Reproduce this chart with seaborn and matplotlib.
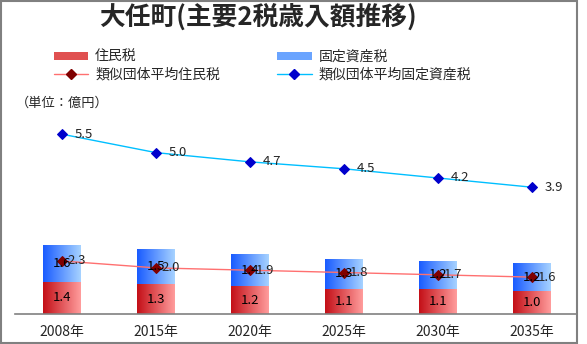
import numpy as np
import pandas as pd
import matplotlib
matplotlib.use("Agg")
import matplotlib.pyplot as plt
import seaborn as sns
from matplotlib.patches import Patch, Rectangle
from matplotlib.lines import Line2D
from matplotlib.colors import LinearSegmentedColormap

# ---- data ----
years = ["2008年", "2015年", "2020年", "2025年", "2030年", "2035年"]
juminzei = [1.4, 1.3, 1.2, 1.1, 1.1, 1.0]
kotei = [1.6, 1.5, 1.4, 1.3, 1.2, 1.2]
avg_juminzei = [2.3, 2.0, 1.9, 1.8, 1.7, 1.6]
avg_kotei = [5.5, 5.0, 4.7, 4.5, 4.2, 3.9]

title = "大任町(主要2税歳入額推移)"
unit_label = "（単位：億円）"
lbl_j = "住民税"
lbl_k = "固定資産税"
lbl_aj = "類似団体平均住民税"
lbl_ak = "類似団体平均固定資産税"

sns.set_theme(style="white")
plt.rcParams["font.family"] = ["Noto Sans CJK JP", "DejaVu Sans"]

df = pd.DataFrame({"year": years, "j": juminzei, "k": kotei,
                   "aj": avg_juminzei, "ak": avg_kotei})
df["jk"] = df["j"] + df["k"]
df["ajak"] = df["aj"] + df["ak"]

fig = plt.figure(figsize=(5.87, 3.44), dpi=100)
ax = fig.add_axes([15/587, 30/344, (577-15)/587, (314-95)/344])

# stacked bars
sns.barplot(data=df, x="year", y="jk", color="#7fb0ff", width=0.4, ax=ax,
            saturation=1, zorder=2)
sns.barplot(data=df, x="year", y="j", color="#e06060", width=0.4, ax=ax,
            saturation=1, zorder=2)

blue_cont, red_cont = ax.containers[0], ax.containers[1]

red_cmap = LinearSegmentedColormap.from_list("r", ["#c41018", "#ff9c9c"])
blue_cmap = LinearSegmentedColormap.from_list("b", ["#1a5cff", "#a6d2ff"])
grad = np.linspace(0, 1, 64).reshape(1, -1)
for cont, cmap in ((blue_cont, blue_cmap), (red_cont, red_cmap)):
    for p in cont.patches:
        x0, y0 = p.get_x(), p.get_y()
        w, h = p.get_width(), p.get_height()
        p.set_facecolor("none")
        p.set_edgecolor("none")
        im = ax.imshow(grad, cmap=cmap, extent=[x0, x0 + w, y0, y0 + h],
                       aspect="auto", zorder=2, interpolation="bilinear")
        im.set_clip_path(p)

# labels for bars
for i in range(len(years)):
    ax.text(i, juminzei[i] / 2, f"{juminzei[i]:.1f}", ha="center", va="center",
            fontsize=9.5, color="black", zorder=5)
    ax.text(i, juminzei[i] + kotei[i] / 2, f"{kotei[i]:.1f}", ha="center",
            va="center", fontsize=9.5, color="black", zorder=5)

# lines (stacked)
n_before = len(ax.lines)
sns.pointplot(data=df, x="year", y="aj", color="#ff7070", markers="D",
              linestyles="-", ax=ax, errorbar=None, markersize=5.5, linewidth=1)
sns.pointplot(data=df, x="year", y="ajak", color="#00bfff", markers="D",
              linestyles="-", ax=ax, errorbar=None, markersize=5.5, linewidth=1)
lines = ax.lines[n_before:]
lines[0].set_markerfacecolor("#800000")
lines[0].set_markeredgecolor("#800000")
lines[1].set_markerfacecolor("#0000cc")
lines[1].set_markeredgecolor("#0000cc")
for ln in lines:
    ln.set_zorder(4)

for i in range(len(years)):
    ax.annotate(f"{avg_juminzei[i]:.1f}", (i, avg_juminzei[i]),
                xytext=(4, 0), textcoords="offset points", ha="left",
                va="center", fontsize=9.5, zorder=6)
    ax.annotate(f"{avg_kotei[i]:.1f}", (i, avg_juminzei[i] + avg_kotei[i]),
                xytext=(9, 0), textcoords="offset points", ha="left",
                va="center", fontsize=9.5, zorder=6)

ax.set_xlim(-0.5, 5.48)
ax.set_ylim(0, 9.5)
ax.set_xlabel("")
ax.set_ylabel("")
ax.set_yticks([])
ax.tick_params(axis="x", length=0, pad=8, labelsize=10)
for s in ("top", "left", "right"):
    ax.spines[s].set_visible(False)
ax.spines["bottom"].set_color("#808080")
ax.spines["bottom"].set_linewidth(1.2)
ax.patch.set_alpha(0)

# title
fig.text(258/587, 1 - 17/344, title, ha="center", va="center",
         fontsize=18.5, fontweight="bold")

# legend
handles = [
    Patch(facecolor="#e05050", edgecolor="none"),
    Line2D([], [], color="#ff7070", marker="D", markersize=5.5, lw=1,
           markerfacecolor="#800000", markeredgecolor="#800000"),
    Patch(facecolor="#6aa4ff", edgecolor="none"),
    Line2D([], [], color="#00bfff", marker="D", markersize=5.5, lw=1,
           markerfacecolor="#0000cc", markeredgecolor="#0000cc"),
]
labels = [lbl_j, lbl_aj, lbl_k, lbl_ak]
leg = fig.legend(handles, labels, ncol=2, loc="upper left",
                 bbox_to_anchor=(41/587, 1 - 37/344), frameon=False,
                 fontsize=10, handlelength=2.5, handleheight=0.5,
                 columnspacing=4.1, labelspacing=0.3, handletextpad=0.5)

fig.text(16/587, 1 - 103/344, unit_label, ha="left", va="center", fontsize=9.5)

# outer border
fig.patches.append(Rectangle((0.001, 0.002), 576/587, 0.995,
                             transform=fig.transFigure, fill=False,
                             edgecolor="#808080", linewidth=1.5))

fig.savefig("out.png", dpi=100)
